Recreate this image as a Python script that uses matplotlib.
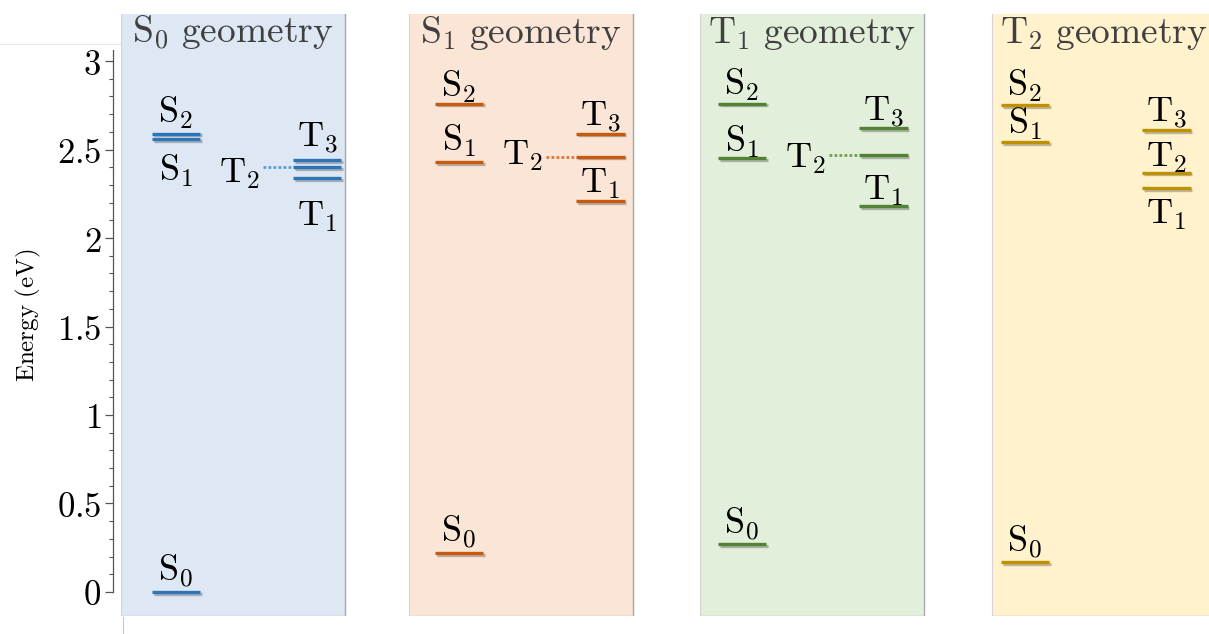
import numpy as np
import matplotlib
matplotlib.use('Agg')
import matplotlib.pyplot as plt
import matplotlib.patheffects as pe
from matplotlib.lines import Line2D
from matplotlib.ticker import FixedLocator, FuncFormatter

plt.rcParams['mathtext.fontset'] = 'cm'

# excitation energies (eV) at each optimised geometry
geometries = ['S_0', 'S_1', 'T_1', 'T_2']
s0 = [0.00, 0.22, 0.27, 0.17]
s1 = [2.56, 2.43, 2.45, 2.54]
s2 = [2.59, 2.76, 2.76, 2.75]
t1 = [2.34, 2.21, 2.18, 2.28]
t2 = [2.40, 2.46, 2.47, 2.37]
t3 = [2.44, 2.59, 2.62, 2.61]

line_colors = ['#2e75b6', '#c55a11', '#548235', '#bf9000']
dot_colors = ['#5b9bd5', '#d8783a', '#6f9f4c', '#c9a01c']
bg_colors = ['#dee8f4', '#fae5d7', '#e2efda', '#fff2cd']

# label placement: (mode, offset in points)
label_layout = [
    {'S_0': ('above', 8), 'S_1': ('below', 10), 'S_2': ('above', 8),
     'T_1': ('below', 16), 'T_2': ('left', -11), 'T_3': ('above', 9)},
    {'S_0': ('above', 8), 'S_1': ('above', 8), 'S_2': ('above', 5),
     'T_1': ('above', 6), 'T_2': ('left', -6), 'T_3': ('above', 5)},
    {'S_0': ('above', 7), 'S_1': ('above', 5), 'S_2': ('above', 6),
     'T_1': ('above', 5), 'T_2': ('left', -9), 'T_3': ('above', 5)},
    {'S_0': ('above', 7), 'S_1': ('above', 6), 'S_2': ('above', 7),
     'T_1': ('below', 6.5), 'T_2': ('above', 4.5), 'T_3': ('above', 6)},
]
panel_left = [-0.194, -0.176, -0.148, -0.117]
panel_width = 0.79
s_col, t_col = 0.0, 0.5
hw = 0.085
fs_label = 26

W, H = 1209, 634
fig = plt.figure(figsize=(W / 100, H / 100), dpi=100)
ax = fig.add_axes([121 / W, 18 / H, (W - 121) / W, 602 / H])
ax.set_facecolor('none')
ax.set_xlim(-0.194, 3.650)
ax.set_ylim(-0.136, 3.266)

shadow = [pe.SimpleLineShadow(offset=(1.2, -1.2), shadow_color='k', alpha=0.25), pe.Normal()]
xt = ax.get_xaxis_transform()

for i, geo in enumerate(geometries):
    x0 = i + panel_left[i]
    x1 = x0 + panel_width
    ax.axvspan(x0, x1, facecolor=bg_colors[i], edgecolor='none', zorder=0)
    # panel edges: grey right/bottom, faint left
    ax.plot([x1, x1], [0, 1], transform=xt, color='#a8a8a8', lw=1, zorder=1)
    ax.plot([x0, x1], [0, 0], transform=xt, color='#bdbdbd', lw=1, zorder=1)
    ax.plot([x0, x0], [0, 1], transform=xt, color='#d4d4d4', lw=0.8, zorder=1)
    ax.text((x0 + x1) / 2, 0.952, r'$\mathrm{%s\ geometry}$' % geo,
            transform=xt, ha='center', va='baseline', fontsize=27, color='#404040')

    levels = {'S_0': s0[i], 'S_1': s1[i], 'S_2': s2[i],
              'T_1': t1[i], 'T_2': t2[i], 'T_3': t3[i]}
    for name, e in levels.items():
        xc = i + (s_col if name[0] == 'S' else t_col)
        ax.plot([xc - hw, xc + hw], [e, e], color=line_colors[i], lw=2.4,
                solid_capstyle='butt', path_effects=shadow, zorder=3)
        mode, off = label_layout[i][name]
        lbl = r'$\mathrm{%s}$' % name
        if mode == 'above':
            ax.annotate(lbl, (xc, e), xytext=(0, off), textcoords='offset points',
                        ha='center', va='baseline', fontsize=fs_label)
        elif mode == 'below':
            ax.annotate(lbl, (xc, e), xytext=(0, -off), textcoords='offset points',
                        ha='center', va='top', fontsize=fs_label)
        else:
            ax.plot([xc - hw - 0.108, xc - hw - 0.01], [e, e], color=dot_colors[i],
                    lw=2, ls=(0, (1, 0.8)), zorder=3)
            ax.annotate(lbl, (xc - hw - 0.118, e), xytext=(0, off),
                        textcoords='offset points', ha='right', va='baseline',
                        fontsize=fs_label)

# energy axis
for side in ['top', 'right', 'bottom']:
    ax.spines[side].set_visible(False)
ax.spines['left'].set_position(('outward', 5.8))
ax.spines['left'].set_bounds(0, 3.06)
ax.spines['left'].set_color('#555555')
ax.spines['left'].set_linewidth(0.9)
ax.set_xticks([])
ax.yaxis.set_major_locator(FixedLocator(np.arange(0, 3.01, 0.5)))
ax.yaxis.set_minor_locator(FixedLocator([v for v in np.arange(0, 3.01, 0.1)
                                         if abs(v * 2 - round(v * 2)) > 1e-6]))
ax.yaxis.set_major_formatter(FuncFormatter(lambda v, _: r'$%g$' % v))
ax.tick_params(axis='y', which='major', length=5.5, width=0.9, color='#555555',
               labelsize=25, pad=3)
ax.tick_params(axis='y', which='minor', length=3, width=0.8, color='#555555')
ax.set_ylabel(r'$\mathrm{Energy\ (eV)}$', fontsize=18)
ax.yaxis.set_label_coords(-0.072, 0.5)

# faint frame remnants
fig.add_artist(Line2D([0, 120 / W], [1 - 44 / H, 1 - 44 / H], color='#e6e6e6', lw=0.8))
fig.add_artist(Line2D([123 / W, 123 / W], [0, 17 / H], color='#c8c8c8', lw=0.8))

fig.savefig('out.png', dpi=100)
